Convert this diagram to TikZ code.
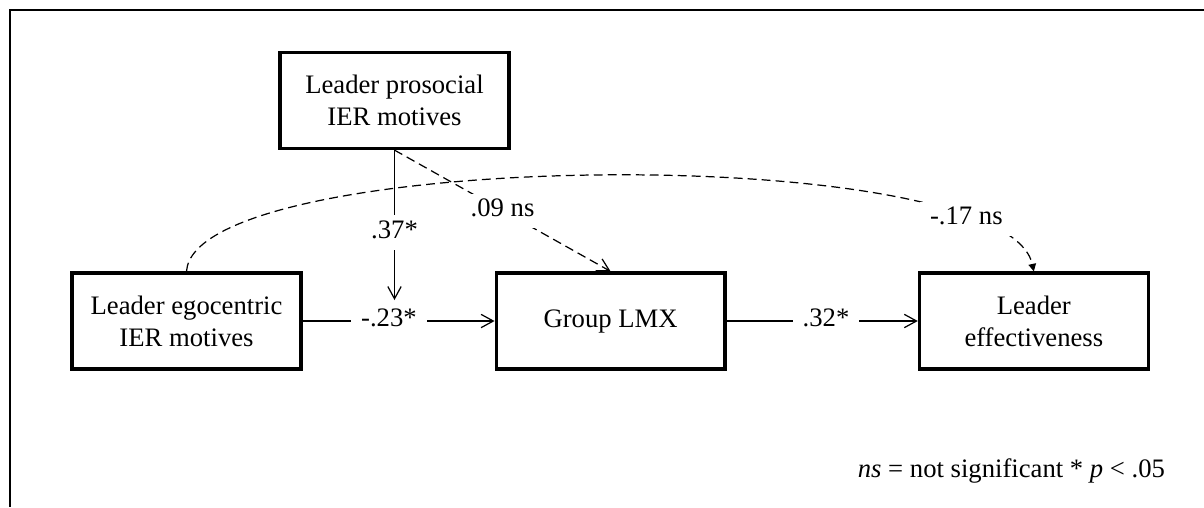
\documentclass[tikz,border=0pt]{standalone}
\usepackage{fontspec}
\setmainfont{Liberation Serif}
\usetikzlibrary{arrows.meta,positioning,calc}

\tikzset{
  var/.style={draw, line width=1.45pt, minimum width=103pt, minimum height=43.2pt,
              align=center, inner sep=0pt},
  effarrow/.style={line width=0.55pt, -{Straight Barb[length=5.5pt,width=6pt]}},
  nsarrow/.style={effarrow, dash pattern=on 4pt off 2.3pt},
  coef/.style={fill=white, inner xsep=4.5pt, inner ysep=3pt,
               text height=0.72em, text depth=0.22em},
}

\begin{document}
\begin{tikzpicture}[x=0.45pt, y=-0.45pt, font=\fontsize{12}{14.3}\selectfont]
\useasboundingbox (0,0) rectangle (1204,507);
\draw[line width=1.3pt] (1204,10) -- (10,10) -- (10,507);

\node[var] (pro) at (394.5,100.5) {Leader prosocial\\IER motives};
\node[var] (ego) at (186.5,321) {Leader egocentric\\IER motives};
\node[var, right=86.4pt of ego] (lmx) {Group LMX};
\node[var, right=86pt of lmx] (eff) {Leader\\effectiveness};
\coordinate (modpt) at ($(pro.south |- ego.east)+(0,-21)$);

\draw[effarrow] (ego) -- node[coef, pos=0.45] {-.23*} (lmx);
\draw[effarrow] (lmx) -- node[coef, pos=0.52] {.32*} (eff);
\draw[effarrow] (pro.south) -- node[coef, pos=0.55] {.37*} (modpt);
\draw[nsarrow] (pro.south) -- node[coef, pos=0.5] {.09 ns} (lmx.north);
\draw[nsarrow, -{Triangle[length=3.4pt,width=3.4pt]}]
  (ego.north) .. controls +(8,-123) and +(-29,-132) .. node[coef, pos=0.84] {-.17 ns} (eff.north);

\node[anchor=base west] (note) at (850,477) {\textit{ns} = not significant * \textit{p} < .05};
\end{tikzpicture}
\end{document}
